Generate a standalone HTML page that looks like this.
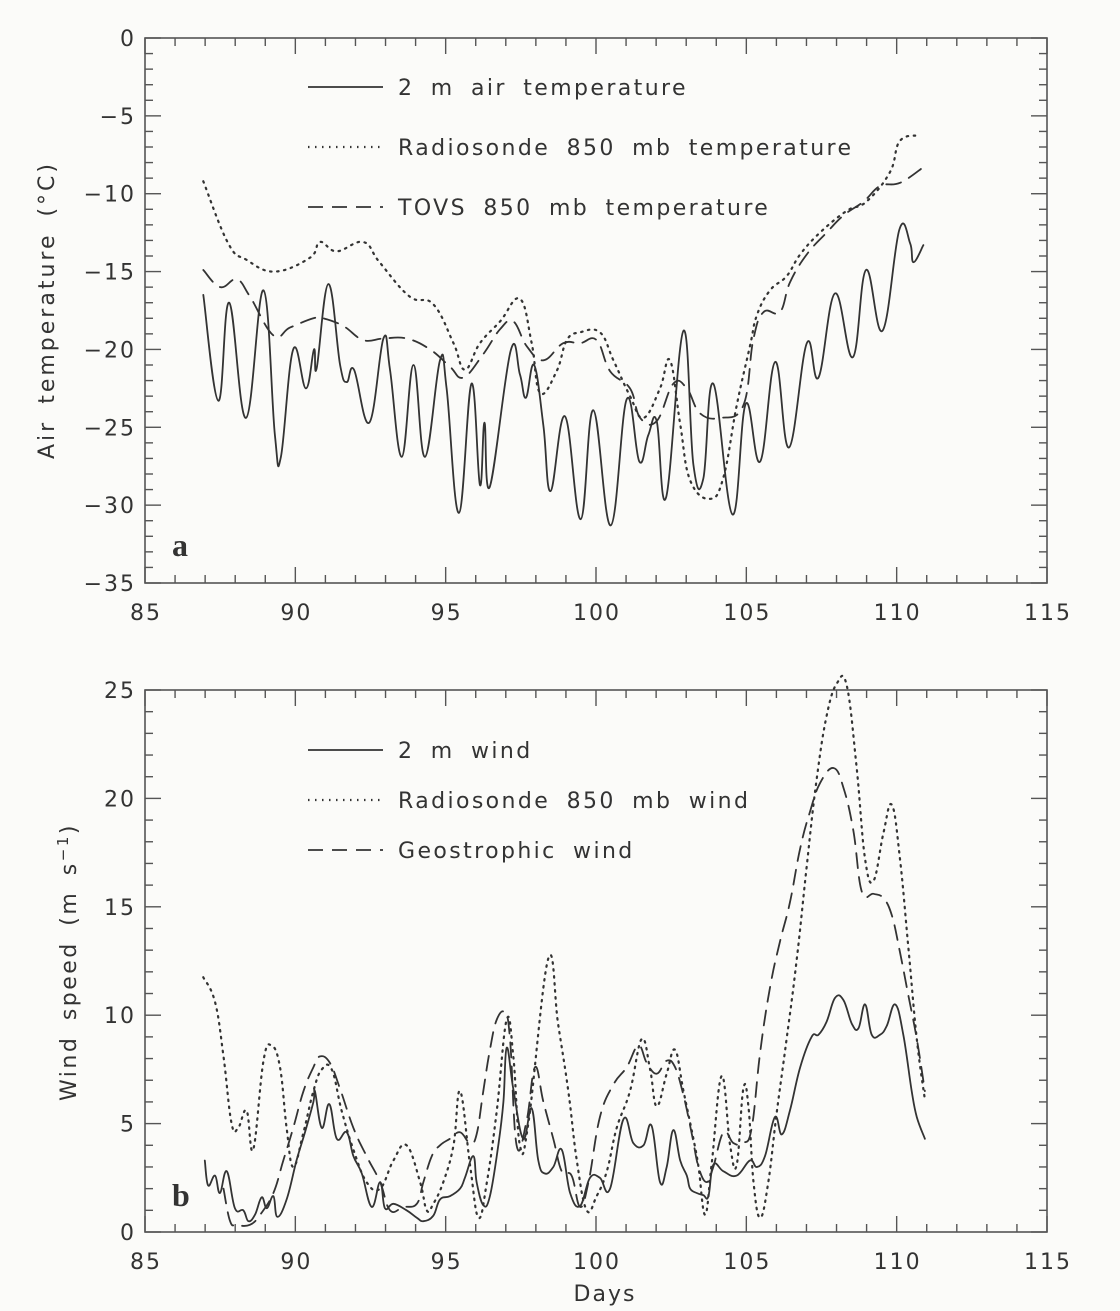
<!DOCTYPE html>
<html><head><meta charset="utf-8"><style>
html,body{margin:0;padding:0;background:#fbfbf9;}
svg{display:block;}
text{font-family:"DejaVu Sans","Liberation Sans",sans-serif;fill:#333;letter-spacing:2px;word-spacing:6px;}
</style></head>
<body>
<svg id="fig" width="1120" height="1311" viewBox="0 0 1120 1311"></svg>
<script>
// ---- Panel a data ----
const airDays=[86.94,87.44,87.8,88.36,88.94,89.32,89.52,89.93,90.35,90.62,90.71,91.1,91.49,91.71,91.95,92.46,92.93,93.15,93.54,93.93,94.31,94.81,95.03,95.44,95.86,96.14,96.29,96.47,97.16,97.47,97.67,97.94,98.25,98.49,98.97,99.49,99.91,100.49,101.02,101.44,101.74,102.02,102.33,102.91,103.24,103.57,103.9,104.54,104.98,105.46,105.96,106.42,107.01,107.4,107.95,108.54,108.98,109.53,110.09,110.45,110.56,110.89];
const airTemp=[-16.5,-23.3,-17,-24.4,-16.2,-25.5,-26.9,-20,-22.5,-20,-21.2,-15.8,-21,-22.1,-21.3,-24.7,-19.3,-21.3,-26.9,-21,-26.9,-20.7,-22.5,-30.5,-22.2,-28.7,-24.7,-28.8,-20.1,-21.6,-23.1,-21,-24.9,-29.1,-24.3,-30.9,-23.9,-31.3,-23.2,-27.2,-25.5,-24.6,-29.5,-18.8,-27.4,-28.3,-22.2,-30.6,-23.5,-27.2,-20.8,-26.3,-19.6,-21.8,-16.4,-20.5,-14.9,-18.8,-12.3,-13.2,-14.4,-13.3];
const raobDays=[86.94,87.77,88.38,89.32,90.49,90.82,91.37,92.26,92.8,93.8,94.59,95.26,95.64,96.14,96.81,97.47,97.86,98.14,98.69,99.03,99.47,100.13,100.58,101.13,101.58,102.13,102.46,102.8,103.13,103.79,104.24,104.68,105.12,105.35,105.79,106.34,106.79,107.45,108.34,109.0,109.78,110.11,110.78];
const raobTemp=[-9.2,-13.2,-14.25,-15,-14.1,-13.1,-13.7,-13.1,-14.4,-16.6,-17.1,-19.6,-21.3,-19.6,-18.2,-16.75,-19.6,-22.8,-21.4,-19.4,-18.9,-18.9,-20.7,-23,-24.4,-22.5,-20.7,-24.8,-28.4,-29.6,-28.2,-23.6,-19.8,-17.8,-16.2,-15.3,-13.9,-12.5,-11.1,-10.5,-8.6,-6.6,-6.25];
const tovsDays=[86.94,87.5,88.05,88.49,89.27,89.82,90.6,90.93,91.6,92.26,92.93,93.7,94.48,95.14,95.59,96.25,96.81,97.25,97.7,98.25,98.91,99.47,100.02,100.47,101.13,101.47,102.02,102.57,103.02,103.46,104.13,104.9,105.23,105.57,106.12,106.45,107.01,107.67,108.23,108.9,109.45,110.11,110.89];
const tovsTemp=[-14.9,-16,-15.5,-16.6,-19.1,-18.6,-18,-18,-18.5,-19.4,-19.3,-19.3,-20,-21.1,-21.8,-20.3,-18.7,-18.2,-19.8,-20.7,-19.6,-19.6,-19.4,-21.4,-22.5,-24.4,-24.6,-22.2,-22.5,-24.1,-24.4,-23.6,-19.4,-17.6,-17.6,-15.7,-13.9,-12.5,-11.4,-10.5,-9.5,-9.3,-8.3];
// ---- Panel b data ----
const windDays=[86.99,87.1,87.33,87.49,87.72,87.99,88.27,88.44,88.66,88.88,89.05,89.27,89.4,89.71,90.04,90.32,90.6,90.65,90.88,91.13,91.38,91.71,91.93,92.21,92.54,92.82,92.98,93.26,93.7,94.04,94.26,94.59,94.81,95.14,95.48,95.64,95.92,96.03,96.25,96.47,96.75,96.92,97.03,97.25,97.58,97.86,98.08,98.3,98.58,98.86,99.14,99.47,99.8,100.13,100.47,100.91,101.24,101.58,101.85,102.13,102.35,102.57,102.8,103.02,103.13,103.35,103.57,103.74,103.9,104.24,104.68,105.12,105.35,105.62,105.95,106.18,106.45,106.79,107.17,107.4,107.67,107.95,108.23,108.51,108.73,108.95,109.17,109.45,109.67,109.95,110.22,110.5,110.67,110.94];
const windSpeed=[3.3,2.15,2.6,1.8,2.8,1.1,1.0,0.5,0.8,1.6,1.1,1.65,0.7,1.5,3.3,4.6,6.0,6.5,4.8,5.9,4.3,4.6,3.5,2.7,1.16,2.3,1.1,1.3,1.0,0.66,0.5,0.75,1.5,1.65,2.0,2.5,3.5,2.3,1.24,1.65,4.0,6.0,8.5,6.6,4.3,5.7,3.3,2.7,3.0,3.8,1.8,1.2,2.5,2.5,2.0,5.2,4.1,4.0,4.9,2.3,3.0,4.7,3.3,2.6,2.0,1.8,1.7,1.65,3.1,2.8,2.6,3.3,3.0,3.5,5.3,4.5,5.6,7.6,9.0,9.1,9.7,10.8,10.7,9.6,9.4,10.5,9.1,9.1,9.5,10.5,9.1,6.5,5.3,4.3];
const rwDays=[86.94,87.33,87.61,87.88,88.1,88.38,88.6,88.94,89.21,89.49,89.71,89.93,90.27,90.6,90.88,91.21,91.54,91.93,92.37,92.82,93.26,93.7,94.15,94.37,94.59,94.92,95.26,95.48,95.81,96.09,96.37,96.7,97.03,97.25,97.47,97.75,98.41,98.74,99.08,99.36,99.69,100.02,100.36,100.69,101.13,101.52,101.8,102.02,102.35,102.63,102.91,103.24,103.41,103.63,103.85,104.18,104.46,104.68,104.9,105.07,105.24,105.46,105.73,106.01,106.34,106.68,107.01,107.34,107.67,108.01,108.34,108.67,108.95,109.23,109.56,109.84,110.11,110.39,110.67,110.94];
const rwSpeed=[11.75,10.6,8.1,5.0,4.8,5.6,3.8,7.9,8.6,7.6,4.8,3.0,4.6,6.5,7.5,7.5,5.6,3.8,2.3,2.0,3.3,4.0,2.3,1.0,1.3,2.3,4.0,6.5,3.1,0.66,2.3,5.6,9.8,8.1,4.0,5.0,12.6,9.6,6.5,3.3,1.0,1.65,2.8,4.8,6.5,8.9,7.5,5.8,7.3,8.4,6.5,4.3,3.0,0.8,3.2,7.2,4.0,3.1,6.6,5.8,2.3,0.66,2.3,5.5,8.9,12.6,16.9,20.9,23.8,25.3,25.2,21.4,17.2,16.2,18.4,19.7,17.2,13.1,8.9,6.1];
const gwDays=[87.61,87.83,88.05,88.49,88.83,89.27,89.6,89.93,90.27,90.6,90.82,91.15,91.49,91.93,92.37,92.82,93.15,93.59,94.04,94.26,94.54,94.81,95.14,95.48,95.81,96.03,96.25,96.47,96.7,96.97,97.14,97.36,97.69,97.97,98.25,98.58,98.86,99.19,99.47,99.75,100.13,100.58,101.02,101.41,101.69,102.02,102.35,102.63,102.91,103.19,103.41,103.68,103.9,104.24,104.57,104.9,105.18,105.46,105.79,106.12,106.45,106.79,107.12,107.45,107.9,108.23,108.56,108.84,109.23,109.56,109.84,110.11,110.39,110.67,110.94];
const gwSpeed=[2.0,0.5,0.33,0.33,0.8,1.8,3.3,4.8,6.5,7.6,8.1,7.8,6.6,4.8,3.5,2.3,1.0,1.15,1.3,2.3,3.5,4.0,4.3,4.6,4.1,4.5,6.5,8.4,9.8,10.1,8.9,4.0,5.1,7.6,6.0,4.3,2.8,2.6,1.16,2.3,5.3,6.8,7.6,8.6,7.8,7.3,7.9,7.6,6.3,4.5,3.0,2.3,3.0,4.6,4.1,4.1,4.8,8.3,11.3,13.4,15.2,17.7,19.4,20.7,21.4,20.5,18.5,15.7,15.6,15.4,14.6,12.9,10.9,8.9,6.5];
const xTicks=[85,90,95,100,105,110,115];
const aTicks=[0,-5,-10,-15,-20,-25,-30,-35];
const bTicks=[0,5,10,15,20,25];

const NS='http://www.w3.org/2000/svg';
const svg=document.getElementById('fig');
function mk(tag,attrs,parent){const e=document.createElementNS(NS,tag);for(const k in attrs)e.setAttribute(k,attrs[k]);(parent||svg).appendChild(e);return e;}
const X0=145,X1=1047;
function sx(d){return X0+(d-85)/30*(X1-X0);}
function panel(top,bot,vmin,vmax,minorStep,yt,name){
  const sy=v=>bot-(v-vmin)/(vmax-vmin)*(bot-top);
  const g=mk('g',{});
  
  
  const box=mk('rect',{x:X0,y:top,width:X1-X0,height:bot-top,fill:'none',stroke:'#555','stroke-width':1.6},g);
  
  
  for(let d=85;d<=115;d++){const L=(d%5===0)?16:8;
    mk('line',{x1:sx(d),x2:sx(d),y1:bot,y2:bot-L,stroke:'#555','stroke-width':1.4},g);
    mk('line',{x1:sx(d),x2:sx(d),y1:top,y2:top+L,stroke:'#555','stroke-width':1.4},g);}
  for(let v=vmin;v<=vmax+1e-9;v+=minorStep){const L=(Math.round(v)%5===0)?16:8;
    mk('line',{x1:X0,x2:X0+L,y1:sy(v),y2:sy(v),stroke:'#555','stroke-width':1.4},g);
    mk('line',{x1:X1,x2:X1-L,y1:sy(v),y2:sy(v),stroke:'#555','stroke-width':1.4},g);}
  xTicks.forEach(t=>{const e=mk('text',{x:sx(t)+1,y:bot+37,'font-size':22,'text-anchor':'middle'},g);e.textContent=t;
    
    });
  yt.forEach(t=>{const e=mk('text',{x:136,y:sy(t)+8,'font-size':22,'text-anchor':'end'},g);e.textContent=(t<0?'\u2212'+(-t):t);
    
    });
  return sy;
}
function smoothPath(P){
  let d='M'+P[0][0].toFixed(1)+','+P[0][1].toFixed(1);
  for(let i=0;i<P.length-1;i++){
    const p0=P[Math.max(0,i-1)],p1=P[i],p2=P[i+1],p3=P[Math.min(P.length-1,i+2)];
    const t=0.2;
    const c1=[p1[0]+(p2[0]-p0[0])*t,p1[1]+(p2[1]-p0[1])*t];
    const c2=[p2[0]-(p3[0]-p1[0])*t,p2[1]-(p3[1]-p1[1])*t];
    d+=' C'+c1[0].toFixed(1)+','+c1[1].toFixed(1)+' '+c2[0].toFixed(1)+','+c2[1].toFixed(1)+' '+p2[0].toFixed(1)+','+p2[1].toFixed(1);
  }
  return d;
}
function series(days,vals,sy,dash,w,name){
  const P=days.map((d,i)=>[sx(d),sy(vals[i])]);
  const a={d:smoothPath(P),fill:'none',stroke:'#333','stroke-width':w,'stroke-linejoin':'round','stroke-linecap':'round'};
  if(dash)a['stroke-dasharray']=dash;
  const p=mk('path',a);
  
  
}
function legend(y,dash,w,label,name){
  const a={x1:308,x2:383,y1:y,y2:y,stroke:'#333','stroke-width':w};
  if(dash)a['stroke-dasharray']=dash;
  const l=mk('line',a);
  
  
  const t=mk('text',{x:398,y:y+8,'font-size':22,style:'letter-spacing:2.4px;word-spacing:7px'});t.textContent=label;
  
  
}
const DOT='1.5 5.5', DASH='15 9';
// Panel a
const syA=panel(38,583,-35,0,1,aTicks,'panel-a');
series(raobDays,raobTemp,syA,DOT,2.2,'radiosonde-temp-line');
series(tovsDays,tovsTemp,syA,DASH,1.8,'tovs-temp-line');
series(airDays,airTemp,syA,null,1.8,'air-temp-line');
legend(87,null,1.8,'2 m air temperature','legend-air-temp');
legend(147,DOT,2.2,'Radiosonde 850 mb temperature','legend-radiosonde-temp');
legend(207,DASH,1.8,'TOVS 850 mb temperature','legend-tovs-temp');
let t=mk('text',{x:0,y:0,'font-size':22,'text-anchor':'middle',transform:'translate(54,310) rotate(-90)',style:'letter-spacing:3px'});t.textContent='Air temperature (\u00B0C)';


t=mk('text',{x:172,y:556,'font-size':32,'font-weight':'bold',style:'font-family:"Liberation Serif",serif;letter-spacing:0'});t.textContent='a';


// Panel b
const syB=panel(690,1232,0,25,1,bTicks,'panel-b');
series(rwDays,rwSpeed,syB,DOT,2.2,'radiosonde-wind-line');
series(gwDays,gwSpeed,syB,DASH,1.8,'geostrophic-wind-line');
series(windDays,windSpeed,syB,null,1.8,'wind-2m-line');
legend(750,null,1.8,'2 m wind','legend-2m-wind');
legend(800,DOT,2.2,'Radiosonde 850 mb wind','legend-radiosonde-wind');
legend(850,DASH,1.8,'Geostrophic wind','legend-geostrophic-wind');
t=mk('text',{x:0,y:0,'font-size':22,'text-anchor':'middle',transform:'translate(76,962) rotate(-90)',style:'letter-spacing:2.5px'});
t.innerHTML='Wind speed (m s<tspan dy="-8" font-size="15">\u22121</tspan><tspan dy="8">)</tspan>';


t=mk('text',{x:172,y:1206,'font-size':32,'font-weight':'bold',style:'font-family:"Liberation Serif",serif;letter-spacing:0'});t.textContent='b';


t=mk('text',{x:605,y:1301,'font-size':22,'text-anchor':'middle'});t.textContent='Days';


</script>
</body></html>
